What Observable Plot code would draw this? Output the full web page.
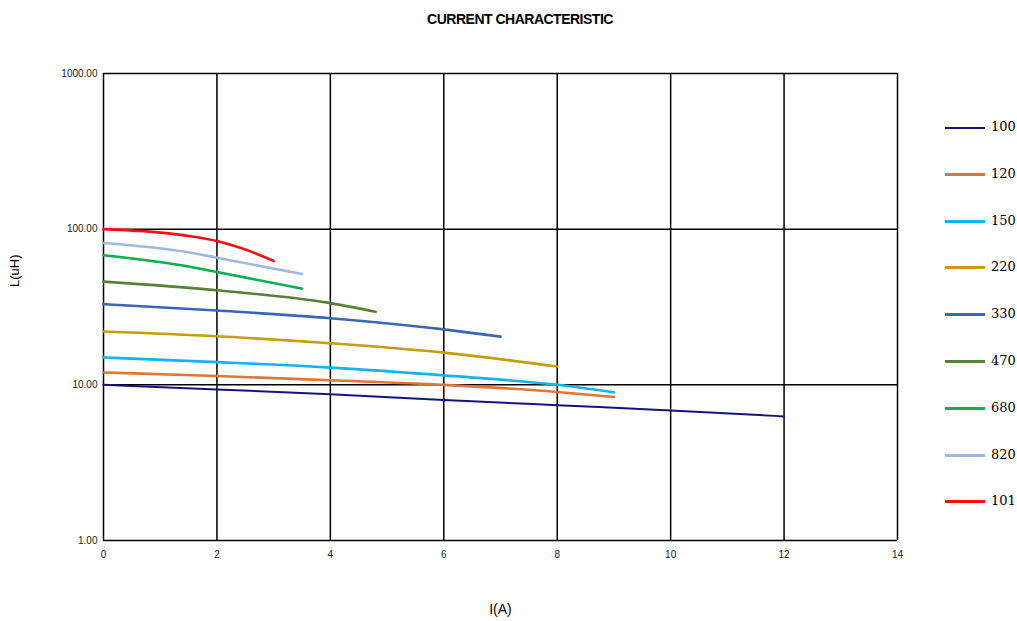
<!DOCTYPE html>
<html>
<head>
<meta charset="utf-8">
<script src="https://cdn.jsdelivr.net/npm/d3@7"></script>
<script src="https://cdn.jsdelivr.net/npm/@observablehq/plot@0.6"></script>
<style>
  body { margin: 0; background: #fff; font-family: "Liberation Sans", Arial, sans-serif; }
  #wrap { position: relative; width: 1017px; height: 621px; overflow: hidden; }
  #title { position: absolute; left: 0; top: 11px; width: 1040px; text-align: center; font-weight: bold; font-size: 14px; color: #000; letter-spacing: -0.5px; }
  #chart { position: absolute; left: 0; top: 50px; }
  #legend { position: absolute; left: 945px; top: 0; }
  .item { position: absolute; left: 0; width: 80px; height: 16px; }
  .sw { position: absolute; left: 0; top: 7px; width: 40px; height: 3px; }
  .lb { position: absolute; left: 46px; top: 0; font-family: "DejaVu Serif", "Liberation Serif", serif; font-size: 13px; color: #000; }
</style>
</head>
<body>
<div id="wrap">
  <div id="title">CURRENT CHARACTERISTIC</div>
  <div id="chart"></div>
  <div id="legend"></div>
</div>
<script>
// ---- data ----
const xTicks = [0, 2, 4, 6, 8, 10, 12, 14];
const yTicks = [1, 10, 100, 1000];
const seriesNames = ["100", "120", "150", "220", "330", "470", "680", "820", "101"];
const seriesColors = ["#14147a", "#e07535", "#12b4ee", "#c89b12", "#3c66b5", "#558236", "#0ab04e", "#9cb9e2", "#ff0c0c"];

const I_100 = [0, 2, 4, 6, 8, 10, 12];
const L_100 = [10.0, 9.35, 8.7, 8.0, 7.4, 6.85, 6.27];
const I_120 = [0, 2, 4, 6, 8, 9];
const L_120 = [12.0, 11.4, 10.7, 10.0, 9.0, 8.35];
const I_150 = [0, 2, 4, 6, 8, 9];
const L_150 = [15.0, 14.0, 12.9, 11.5, 10.0, 8.95];
const I_220 = [0, 2, 4, 6, 8];
const L_220 = [22.0, 20.5, 18.5, 16.1, 13.1];
const I_330 = [0, 2, 4, 6, 7];
const L_330 = [33.0, 30.0, 26.8, 22.7, 20.4];
const I_470 = [0, 2, 4, 4.8];
const L_470 = [46.0, 40.5, 33.5, 29.5];
const I_680 = [0, 1.5, 2, 3.5];
const L_680 = [68.0, 57.5, 53.0, 41.5];
const I_820 = [0, 1.5, 2, 3.5];
const L_820 = [81.5, 71.0, 65.5, 51.5];
const I_101 = [0, 1, 1.5, 2, 2.5, 3];
const L_101 = [100.0, 95.0, 90.5, 84.0, 74.0, 62.5];

const seriesI = [I_100, I_120, I_150, I_220, I_330, I_470, I_680, I_820, I_101];
const seriesL = [L_100, L_120, L_150, L_220, L_330, L_470, L_680, L_820, L_101];

const rows = [];
seriesNames.forEach((name, k) => {
  seriesI[k].forEach((x, j) => rows.push({ name, I: x, L: seriesL[k][j] }));
});

const chart = Plot.plot({
  width: 920,
  height: 571,
  marginLeft: 103,
  marginRight: 23,
  marginTop: 23,
  marginBottom: 81,
  style: { fontFamily: "Liberation Sans, Arial, sans-serif", fontSize: "10px", color: "#222", background: "#fff" },
  x: { domain: [0, 14], ticks: xTicks, tickSize: 0, tickPadding: 10, label: null },
  y: { type: "log", domain: [1, 1000], ticks: yTicks, tickFormat: d => d.toFixed(2), tickSize: 0, tickPadding: 6, label: null },
  color: { domain: seriesNames, range: seriesColors },
  marks: [
    Plot.ruleX(xTicks, { stroke: "#000", strokeWidth: 1.5 }),
    Plot.ruleY(yTicks, { stroke: "#000", strokeWidth: 1.5 }),
    Plot.line(rows, { x: "I", y: "L", z: "name", stroke: "name", strokeWidth: d => d.name === "100" ? 2 : 2.6, curve: "monotone-x" }),
    Plot.axisX({ ticks: xTicks, tickSize: 0, tickPadding: 10, label: null }),
    Plot.axisY({ ticks: yTicks, tickFormat: d => d.toFixed(2), tickSize: 0, tickPadding: 6, label: null }),
    Plot.text(["I(A)"], { frameAnchor: "bottom", dy: 73, fontSize: 14, fill: "#000" }),
    Plot.text(["L(uH)"], { frameAnchor: "left", dx: -89, dy: -20, rotate: -90, fontSize: 13, fill: "#000" })
  ]
});
document.getElementById("chart").appendChild(chart);

const legend = document.getElementById("legend");
seriesNames.forEach((name, k) => {
  const it = document.createElement("div");
  it.className = "item";
  it.style.top = (119 + k * 46.8) + "px";
  const sw = document.createElement("div");
  sw.className = "sw";
  sw.style.background = seriesColors[k];
  if (k === 0) { sw.style.height = "2px"; sw.style.top = "7.5px"; }
  const lb = document.createElement("div");
  lb.className = "lb";
  lb.textContent = name;
  it.appendChild(sw); it.appendChild(lb);
  legend.appendChild(it);
});
</script>
</body>
</html>
